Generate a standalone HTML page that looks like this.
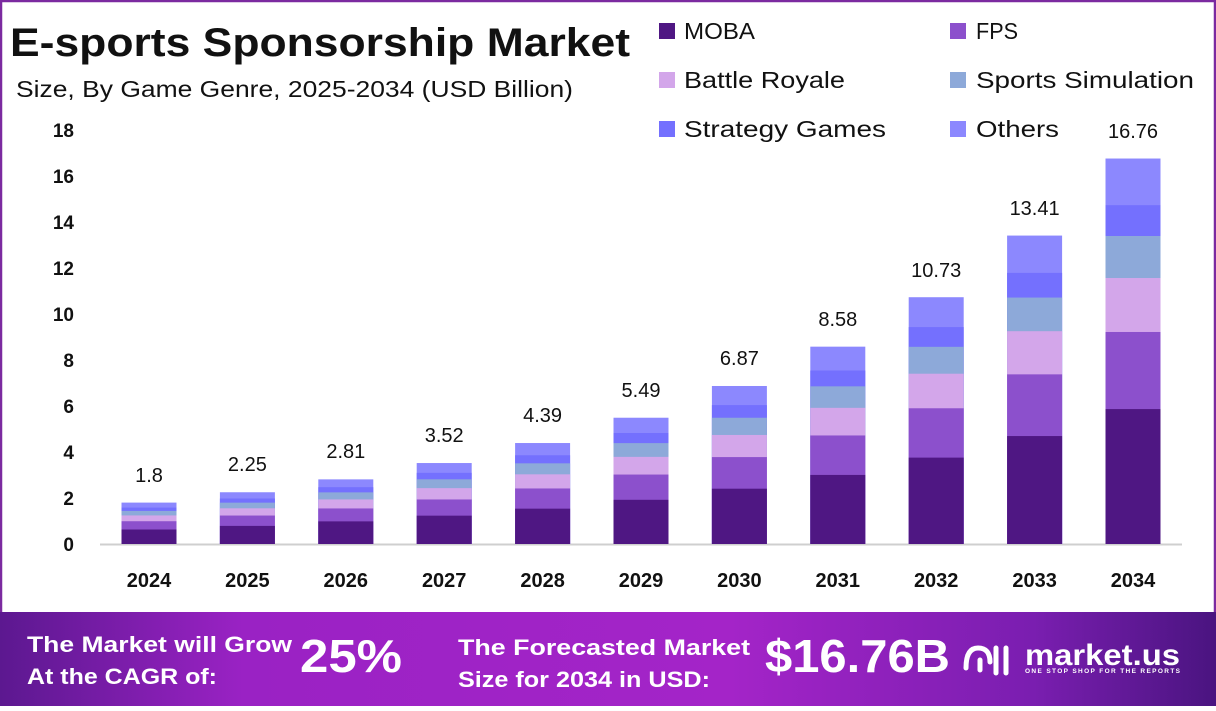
<!DOCTYPE html>
<html><head><meta charset="utf-8"><style>
body{margin:0;width:1216px;height:706px;overflow:hidden;background:#fff;font-family:"Liberation Sans",sans-serif}
</style></head><body>
<svg width="1216" height="706" xmlns="http://www.w3.org/2000/svg" font-family="Liberation Sans, sans-serif">
<defs>
<linearGradient id="bg" x1="0" x2="1" y1="0" y2="0">
<stop offset="0" stop-color="#5c1890"/><stop offset="0.2" stop-color="#9a22c4"/><stop offset="0.6" stop-color="#a424c8"/><stop offset="0.85" stop-color="#7a1eb0"/><stop offset="1" stop-color="#4a1480"/>
</linearGradient>
</defs>
<rect x="1" y="1" width="1214" height="704" fill="#fff" stroke="#7b2aa0" stroke-width="2.5"/>
<text x="10" y="56" font-size="40" font-weight="bold" fill="#111" textLength="620" lengthAdjust="spacingAndGlyphs">E-sports Sponsorship Market</text>
<text x="16" y="97" font-size="23" fill="#111" textLength="557" lengthAdjust="spacingAndGlyphs">Size, By Game Genre, 2025-2034 (USD Billion)</text>
<g font-size="23" fill="#111">
<rect x="659" y="23" width="16" height="16" fill="#4f1783"/><text x="684" y="39" textLength="71" lengthAdjust="spacingAndGlyphs">MOBA</text>
<rect x="950" y="23" width="16" height="16" fill="#8c50cc"/><text x="976" y="39" textLength="42" lengthAdjust="spacingAndGlyphs">FPS</text>
<rect x="659" y="72" width="16" height="16" fill="#d3a6ea"/><text x="684" y="88" textLength="161" lengthAdjust="spacingAndGlyphs">Battle Royale</text>
<rect x="950" y="72" width="16" height="16" fill="#8da9d9"/><text x="976" y="88" textLength="218" lengthAdjust="spacingAndGlyphs">Sports Simulation</text>
<rect x="659" y="121" width="16" height="16" fill="#7470fe"/><text x="684" y="137" textLength="202" lengthAdjust="spacingAndGlyphs">Strategy Games</text>
<rect x="950" y="121" width="16" height="16" fill="#8c88fe"/><text x="976" y="137" textLength="83" lengthAdjust="spacingAndGlyphs">Others</text>
</g>
<g font-size="19" font-weight="bold" fill="#111" text-anchor="end">
<text x="74" y="551">0</text><text x="74" y="505">2</text><text x="74" y="459">4</text><text x="74" y="413">6</text><text x="74" y="367">8</text><text x="74" y="321">10</text><text x="74" y="275">12</text><text x="74" y="229">14</text><text x="74" y="183">16</text><text x="74" y="137">18</text>
</g>
<line x1="100" y1="544.5" x2="1182" y2="544.5" stroke="#cfcfcf" stroke-width="2"/>

<g transform="translate(121.5,544)"><rect width="55" y="-41.4" height="41.4" fill="#8c88fe"/><rect width="55" y="-36.39" height="36.39" fill="#7470fe"/><rect width="55" y="-33.08" height="33.08" fill="#8da9d9"/><rect width="55" y="-28.57" height="28.57" fill="#d3a6ea"/><rect width="55" y="-22.77" height="22.77" fill="#8c50cc"/><rect width="55" y="-14.49" height="14.49" fill="#4f1783"/></g>
<g transform="translate(219.9,544)"><rect width="55" y="-51.75" height="51.75" fill="#8c88fe"/><rect width="55" y="-45.49" height="45.49" fill="#7470fe"/><rect width="55" y="-41.35" height="41.35" fill="#8da9d9"/><rect width="55" y="-35.71" height="35.71" fill="#d3a6ea"/><rect width="55" y="-28.46" height="28.46" fill="#8c50cc"/><rect width="55" y="-18.11" height="18.11" fill="#4f1783"/></g>
<g transform="translate(318.3,544)"><rect width="55" y="-64.63" height="64.63" fill="#8c88fe"/><rect width="55" y="-56.81" height="56.81" fill="#7470fe"/><rect width="55" y="-51.64" height="51.64" fill="#8da9d9"/><rect width="55" y="-44.59" height="44.59" fill="#d3a6ea"/><rect width="55" y="-35.55" height="35.55" fill="#8c50cc"/><rect width="55" y="-22.62" height="22.62" fill="#4f1783"/></g>
<g transform="translate(416.7,544)"><rect width="55" y="-80.96" height="80.96" fill="#8c88fe"/><rect width="55" y="-71.16" height="71.16" fill="#7470fe"/><rect width="55" y="-64.69" height="64.69" fill="#8da9d9"/><rect width="55" y="-55.86" height="55.86" fill="#d3a6ea"/><rect width="55" y="-44.53" height="44.53" fill="#8c50cc"/><rect width="55" y="-28.34" height="28.34" fill="#4f1783"/></g>
<g transform="translate(515.1,544)"><rect width="55" y="-100.97" height="100.97" fill="#8c88fe"/><rect width="55" y="-88.75" height="88.75" fill="#7470fe"/><rect width="55" y="-80.68" height="80.68" fill="#8da9d9"/><rect width="55" y="-69.67" height="69.67" fill="#d3a6ea"/><rect width="55" y="-55.53" height="55.53" fill="#8c50cc"/><rect width="55" y="-35.34" height="35.34" fill="#4f1783"/></g>
<g transform="translate(613.5,544)"><rect width="55" y="-126.27" height="126.27" fill="#8c88fe"/><rect width="55" y="-110.99" height="110.99" fill="#7470fe"/><rect width="55" y="-100.89" height="100.89" fill="#8da9d9"/><rect width="55" y="-87.13" height="87.13" fill="#d3a6ea"/><rect width="55" y="-69.45" height="69.45" fill="#8c50cc"/><rect width="55" y="-44.19" height="44.19" fill="#4f1783"/></g>
<g transform="translate(711.9,544)"><rect width="55" y="-158.01" height="158.01" fill="#8c88fe"/><rect width="55" y="-138.89" height="138.89" fill="#7470fe"/><rect width="55" y="-126.25" height="126.25" fill="#8da9d9"/><rect width="55" y="-109.03" height="109.03" fill="#d3a6ea"/><rect width="55" y="-86.91" height="86.91" fill="#8c50cc"/><rect width="55" y="-55.3" height="55.3" fill="#4f1783"/></g>
<g transform="translate(810.3,544)"><rect width="55" y="-197.34" height="197.34" fill="#8c88fe"/><rect width="55" y="-173.46" height="173.46" fill="#7470fe"/><rect width="55" y="-157.67" height="157.67" fill="#8da9d9"/><rect width="55" y="-136.16" height="136.16" fill="#d3a6ea"/><rect width="55" y="-108.54" height="108.54" fill="#8c50cc"/><rect width="55" y="-69.07" height="69.07" fill="#4f1783"/></g>
<g transform="translate(908.7,544)"><rect width="55" y="-246.79" height="246.79" fill="#8c88fe"/><rect width="55" y="-216.93" height="216.93" fill="#7470fe"/><rect width="55" y="-197.19" height="197.19" fill="#8da9d9"/><rect width="55" y="-170.29" height="170.29" fill="#d3a6ea"/><rect width="55" y="-135.73" height="135.73" fill="#8c50cc"/><rect width="55" y="-86.38" height="86.38" fill="#4f1783"/></g>
<g transform="translate(1007.1,544)"><rect width="55" y="-308.43" height="308.43" fill="#8c88fe"/><rect width="55" y="-271.11" height="271.11" fill="#7470fe"/><rect width="55" y="-246.44" height="246.44" fill="#8da9d9"/><rect width="55" y="-212.82" height="212.82" fill="#d3a6ea"/><rect width="55" y="-169.64" height="169.64" fill="#8c50cc"/><rect width="55" y="-107.95" height="107.95" fill="#4f1783"/></g>
<g transform="translate(1105.5,544)"><rect width="55" y="-385.48" height="385.48" fill="#8c88fe"/><rect width="55" y="-338.84" height="338.84" fill="#7470fe"/><rect width="55" y="-308" height="308" fill="#8da9d9"/><rect width="55" y="-265.98" height="265.98" fill="#d3a6ea"/><rect width="55" y="-212.01" height="212.01" fill="#8c50cc"/><rect width="55" y="-134.92" height="134.92" fill="#4f1783"/></g>

<g font-size="20" text-anchor="middle" fill="#111">
<text x="149" y="482">1.8</text><text x="247.4" y="471">2.25</text><text x="345.8" y="458">2.81</text><text x="444.2" y="442">3.52</text><text x="542.6" y="422">4.39</text><text x="641" y="397">5.49</text><text x="739.4" y="365">6.87</text><text x="837.8" y="326">8.58</text><text x="936.2" y="277">10.73</text><text x="1034.6" y="215">13.41</text><text x="1133" y="138">16.76</text>
</g>
<g font-size="20" font-weight="bold" text-anchor="middle" fill="#111">
<text x="149" y="587">2024</text><text x="247.4" y="587">2025</text><text x="345.8" y="587">2026</text><text x="444.2" y="587">2027</text><text x="542.6" y="587">2028</text><text x="641" y="587">2029</text><text x="739.4" y="587">2030</text><text x="837.8" y="587">2031</text><text x="936.2" y="587">2032</text><text x="1034.6" y="587">2033</text><text x="1133" y="587">2034</text>
</g>

<rect x="0" y="612" width="1216" height="94" fill="url(#bg)"/>
<g fill="#fff" font-weight="bold">
<text x="27" y="652" font-size="22" textLength="265" lengthAdjust="spacingAndGlyphs">The Market will Grow</text>
<text x="27" y="684" font-size="22" textLength="190" lengthAdjust="spacingAndGlyphs">At the CAGR of:</text>
<text x="300" y="672" font-size="46" textLength="102" lengthAdjust="spacingAndGlyphs">25%</text>
<text x="458" y="655" font-size="22" textLength="292" lengthAdjust="spacingAndGlyphs">The Forecasted Market</text>
<text x="458" y="687" font-size="22" textLength="252" lengthAdjust="spacingAndGlyphs">Size for 2034 in USD:</text>
<text x="765" y="672" font-size="46" textLength="185" lengthAdjust="spacingAndGlyphs">$16.76B</text>
<text x="1025" y="665" font-size="30" textLength="155" lengthAdjust="spacingAndGlyphs">market.us</text>
<text x="1025" y="673" font-size="6.5" textLength="155">ONE STOP SHOP FOR THE REPORTS</text>
<path d="M966 668 q0-20 12-20 q12 0 12 14 M980 660 v10 M996 648 v25 M1006 648 v25" stroke="#fff" stroke-width="5" fill="none" stroke-linecap="round"/>
</g>
</svg>
</body></html>
